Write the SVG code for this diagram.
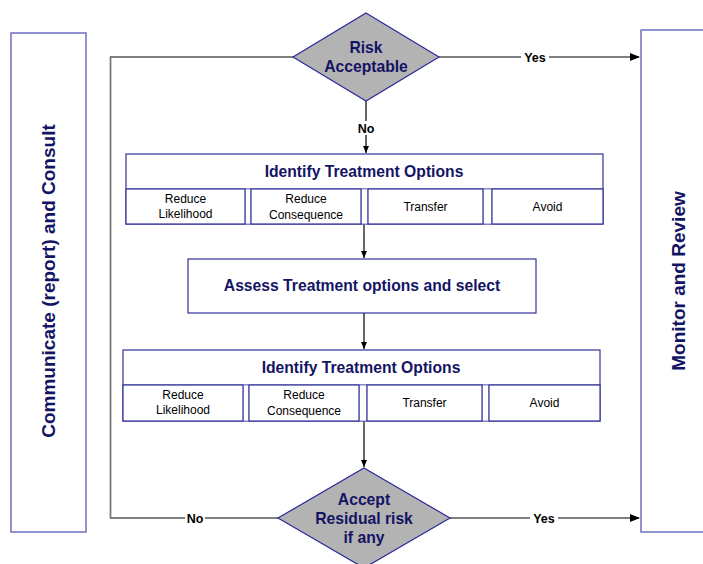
<svg xmlns="http://www.w3.org/2000/svg" width="703" height="564" viewBox="0 0 703 564">
<defs>
<marker id="arr" markerWidth="10" markerHeight="8" refX="9" refY="4" orient="auto" markerUnits="userSpaceOnUse">
<path d="M0,0 L10,4 L0,8 Z" fill="#000"/>
</marker>
<marker id="arrs" markerWidth="8" markerHeight="8" refX="7" refY="4" orient="auto" markerUnits="userSpaceOnUse">
<path d="M0,1 L7,4 L0,7 Z" fill="#000"/>
</marker>
<style>
.box{fill:#fff;stroke:#333399;stroke-width:1.2}
.gap{fill:#fff;stroke:#8080c8;stroke-width:1}
.side{fill:#fff;stroke:#6f6fbf;stroke-width:1.5}
.dia{fill:#b3b3b3;stroke:#2a2a99;stroke-width:1.2}
.t{font-family:"Liberation Sans",Arial,sans-serif;fill:#141464;font-weight:bold;text-anchor:middle}
.c{font-family:"Liberation Sans",Arial,sans-serif;fill:#000;font-size:12px;text-anchor:middle}
.lbl{font-family:"Liberation Sans",Arial,sans-serif;fill:#000;font-size:12.5px;font-weight:bold;text-anchor:middle}
.ln{fill:none;stroke:#000;stroke-width:1.2}
</style>
</defs>
<rect width="703" height="564" fill="#fff"/>

<g id="connectors">
<path class="ln" d="M293,57 H110.5 V518 H278"/>
<path d="M110.5,57 V518" fill="none" stroke="#777" stroke-width="1.5"/>
<path class="ln" d="M438,57 H639" marker-end="url(#arr)"/>
<path class="ln" d="M450,518 H639" marker-end="url(#arr)"/>
<path class="ln" d="M366,101 V153" marker-end="url(#arrs)"/>
<path class="ln" d="M364,224 V258" marker-end="url(#arrs)"/>
<path class="ln" d="M364,313 V349" marker-end="url(#arrs)"/>
<path class="ln" d="M364,421 V467" marker-end="url(#arrs)"/>
<rect x="521" y="50" width="28" height="14" fill="#fff"/>
<text class="lbl" x="535" y="62">Yes</text>
<rect x="356" y="121" width="20" height="14" fill="#fff"/>
<text class="lbl" x="366" y="133">No</text>
<rect x="185" y="511" width="20" height="14" fill="#fff"/>
<text class="lbl" x="195" y="523">No</text>
<rect x="530" y="511" width="28" height="14" fill="#fff"/>
<text class="lbl" x="544" y="523">Yes</text>
</g>

<g id="communicate">
<rect class="side" x="11" y="33" width="75" height="499"/>
<text class="t" font-size="19" transform="translate(55,281) rotate(-90)">Communicate (report) and Consult</text>
</g>

<g id="monitor">
<rect class="side" x="641" y="30" width="70" height="502"/>
<text class="t" font-size="19" transform="translate(685,281) rotate(-90)">Monitor and Review</text>
</g>

<g id="risk-acceptable">
<polygon class="dia" points="366,13 439,57 366,101 293,57"/>
<text class="t" font-size="15.7" x="366" y="53">Risk</text>
<text class="t" font-size="15.7" x="366" y="72">Acceptable</text>
</g>

<g id="identify-1">
<rect class="box" x="126" y="154" width="477" height="70"/>
<line x1="126" y1="189" x2="603" y2="189" stroke="#333399" stroke-width="1.2"/>
<text class="t" font-size="15.7" x="364" y="177">Identify Treatment Options</text>
<rect class="gap" x="245" y="189" width="6" height="35"/>
<rect class="gap" x="361" y="189" width="7" height="35"/>
<rect class="gap" x="483" y="189" width="9" height="35"/>
<rect class="box" x="126" y="189" width="119" height="35"/>
<rect class="box" x="251" y="189" width="110" height="35"/>
<rect class="box" x="368" y="189" width="115" height="35"/>
<rect class="box" x="492" y="189" width="111" height="35"/>
<text class="c" x="185.5" y="203">Reduce</text>
<text class="c" x="185.5" y="218">Likelihood</text>
<text class="c" x="306" y="203">Reduce</text>
<text class="c" x="306" y="219">Consequence</text>
<text class="c" x="425.5" y="211">Transfer</text>
<text class="c" x="547.5" y="211">Avoid</text>
</g>

<g id="assess">
<rect class="box" x="188" y="259" width="348" height="54"/>
<text class="t" font-size="15.7" x="362" y="291">Assess Treatment options and select</text>
</g>

<g id="identify-2">
<rect class="box" x="123" y="350" width="477" height="71"/>
<line x1="123" y1="385" x2="600" y2="385" stroke="#333399" stroke-width="1.2"/>
<text class="t" font-size="15.7" x="361" y="373">Identify Treatment Options</text>
<rect class="gap" x="243" y="385" width="6" height="36"/>
<rect class="gap" x="359" y="385" width="8" height="36"/>
<rect class="gap" x="482" y="385" width="7" height="36"/>
<rect class="box" x="123" y="385" width="120" height="36"/>
<rect class="box" x="249" y="385" width="110" height="36"/>
<rect class="box" x="367" y="385" width="115" height="36"/>
<rect class="box" x="489" y="385" width="111" height="36"/>
<text class="c" x="183" y="399">Reduce</text>
<text class="c" x="183" y="414">Likelihood</text>
<text class="c" x="304" y="399">Reduce</text>
<text class="c" x="304" y="415">Consequence</text>
<text class="c" x="424.5" y="407">Transfer</text>
<text class="c" x="544.5" y="407">Avoid</text>
</g>

<g id="accept-residual">
<polygon class="dia" points="364,468 450,518 364,568 278,518"/>
<text class="t" font-size="15.7" x="364" y="505">Accept</text>
<text class="t" font-size="15.7" x="364" y="524">Residual risk</text>
<text class="t" font-size="15.7" x="364" y="543">if any</text>
</g>
</svg>
